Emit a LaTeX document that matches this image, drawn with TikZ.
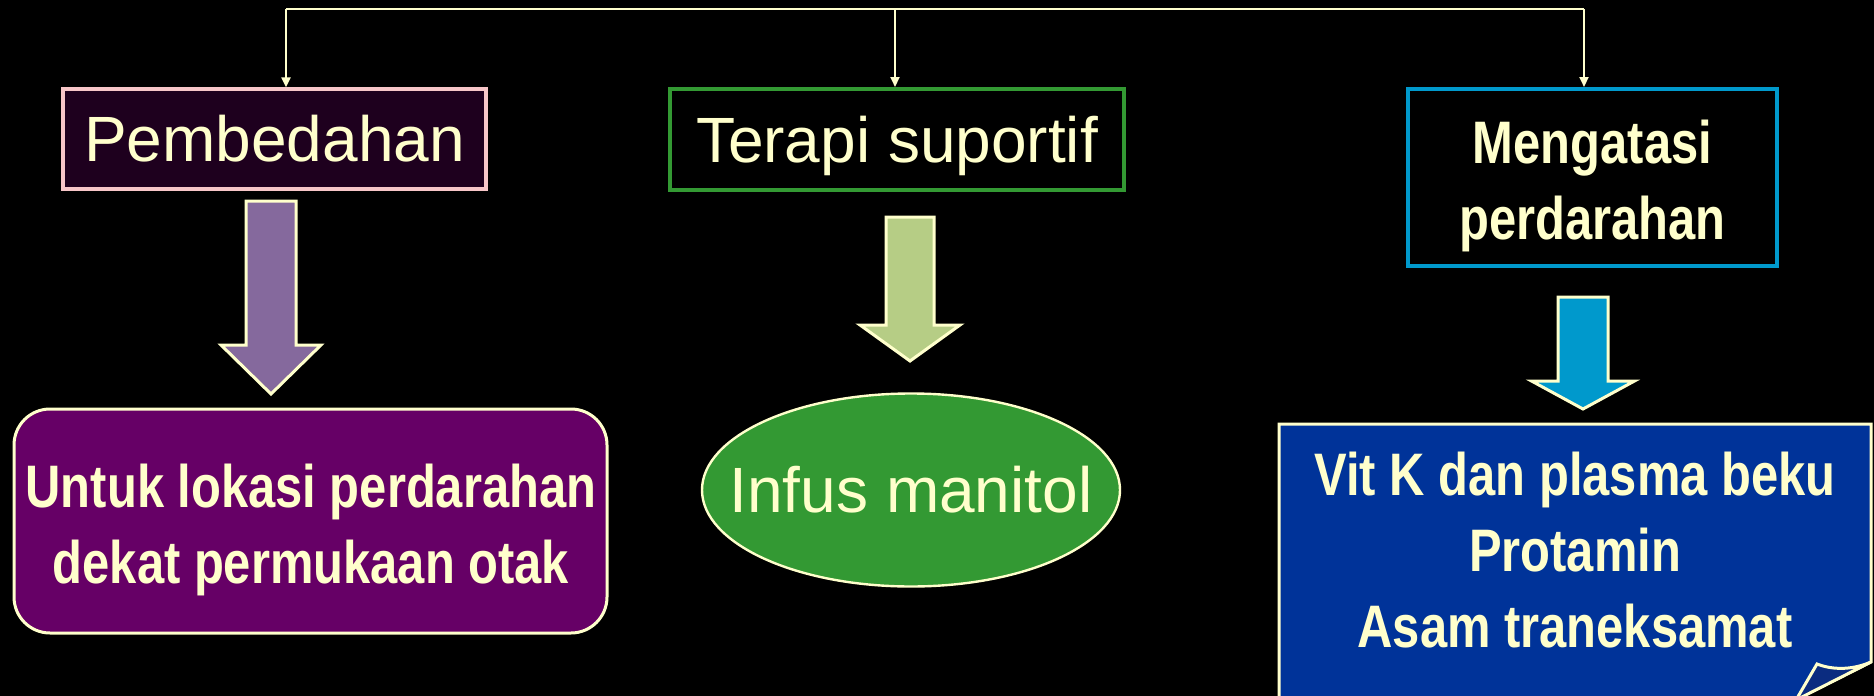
\documentclass[tikz,border=0pt]{standalone}
\usepackage{fontspec}
\setmainfont{Liberation Sans}
\newfontfamily\condfont[FakeStretch=0.815]{Liberation Sans Bold}
\usetikzlibrary{arrows.meta,shapes.geometric}
\definecolor{cream}{HTML}{FFFFCC}
\definecolor{pinkline}{HTML}{F7C6C8}
\definecolor{darkplum}{HTML}{1E001E}
\definecolor{grn}{HTML}{339933}
\definecolor{cyanb}{HTML}{0099CC}
\definecolor{lilac}{HTML}{85699D}
\definecolor{sage}{HTML}{B6CD85}
\definecolor{plum}{HTML}{660066}
\definecolor{navy}{HTML}{003399}
\definecolor{flapblue}{HTML}{0B2C80}
\tikzset{
  arialtxt/.style={font=\fontsize{32}{38}\selectfont, text=cream, text height=22.9pt, text depth=0pt},
  condtxt/.style={font=\condfont\fontsize{30}{38}\selectfont, text=cream, align=center, inner sep=0pt},
  topbox/.style={rectangle, inner sep=0pt, line width=1.6pt},
  conn/.style={draw=cream, line width=1pt},
  connarrow/.style={conn, -{Triangle[length=5pt,width=4.5pt]}},
  blockstyle/.style={draw=cream, line width=1.5pt, line join=miter},
}
\newcommand\blockarr[8]{% color, cx, halfshaft, top, heady, halfhead, tip
  \path[blockstyle, fill=#1] ({#2-#3},#4) -- ({#2+#3},#4) -- ({#2+#3},#5) -- ({#2+#6},#5) -- (#2,#7) -- ({#2-#6},#5) -- ({#2-#3},#5) -- cycle;}
\begin{document}
\begin{tikzpicture}[x=0.5pt,y=-0.5pt]
\useasboundingbox (0,0) rectangle (1874,696);
\fill[black] (0,0) rectangle (1874,696);

% top boxes
\node[topbox, arialtxt, draw=pinkline, fill=darkplum, minimum width=211.5pt, minimum height=50pt] (pb) at (274.5,139) {Pembedahan};
\node[topbox, arialtxt, draw=grn, fill=black, minimum width=227pt, minimum height=50.5pt, line width=2pt] (ts) at (897,139.5) {Terapi suportif};
\node[topbox, draw=cyanb, fill=black, minimum width=184.5pt, minimum height=88.5pt, line width=2pt] (mp) at (1592.5,177.5) {};
\node[condtxt] (mpt) at (1592.5,185.8) {Mengatasi\\perdarahan};

% connectors
\coordinate (t1) at (286,9);
\coordinate (t2) at (895,9);
\coordinate (t3) at (1584,9);
\draw[conn] (t1) -- (t3);
\draw[connarrow] (t1) -- (t1 |- pb.north);
\draw[connarrow] (t2) -- (t2 |- ts.north);
\draw[connarrow] (t3) -- (t3 |- mp.north);

% block arrows
\blockarr{lilac}{271}{25}{201}{345}{50}{394}{}
\blockarr{sage}{910}{24}{217}{325}{50}{361}{}
\blockarr{cyanb}{1583}{25}{297}{381}{51.5}{409}{}

% bottom shapes
\node[rectangle, rounded corners=18pt, draw=cream, fill=plum, line width=1.5pt, minimum width=296.5pt, minimum height=112pt, inner sep=0pt] (lok) at (310.5,521) {};
\node[condtxt] (lokt) at (311,529.8) {Untuk lokasi perdarahan\\dekat permukaan otak};

\node[ellipse, draw=cream, fill=grn, line width=1.2pt, minimum width=209pt, minimum height=96.5pt, inner sep=0pt] (inf) at (911,490) {};
\node[arialtxt, inner sep=0pt] (inft) at (911,490) {Infus manitol};

\begin{scope}
\clip (0,0) rectangle (1874,696);
\path[draw=cream, fill=navy, line width=1.5pt, line join=miter] (1279,424) -- (1871,424) -- (1871,662) -- (1775,710) -- (1279,710) -- cycle;
\path[draw=cream, fill=flapblue, line width=1.5pt, line join=miter] (1796,700) -- (1817,664) .. controls (1835,671) and (1855,669) .. (1871,662) -- cycle;
\end{scope}
\node[condtxt] (vit) at (1575,550) {Vit K dan plasma beku\\Protamin\\Asam traneksamat};
\end{tikzpicture}
\end{document}
